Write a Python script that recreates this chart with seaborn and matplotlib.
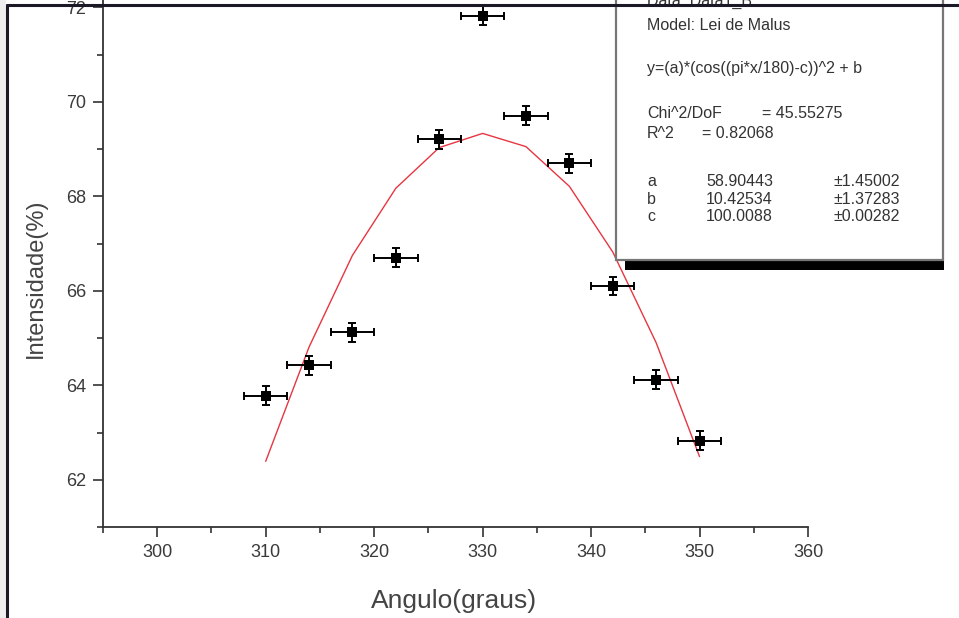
import matplotlib
matplotlib.use("Agg")
import matplotlib.pyplot as plt
import seaborn as sns
import pandas as pd
from matplotlib.patches import Rectangle
from matplotlib.lines import Line2D
from matplotlib.ticker import MultipleLocator

# ---- data ----
angles = [310, 314, 318, 322, 326, 330, 334, 338, 342, 346, 350]
intensity = [63.78, 64.42, 65.12, 66.70, 69.21, 71.82, 69.70, 68.70, 66.10, 64.12, 62.83]
angle_err = [2, 2, 2, 2, 2, 2, 2, 2, 2, 2, 2]
intensity_err = [0.2, 0.2, 0.2, 0.2, 0.2, 0.2, 0.2, 0.2, 0.2, 0.2, 0.2]

fit_angles = [310, 314, 318, 322, 326, 330, 334, 338, 342, 346, 350]
fit_values = [62.39, 64.81, 66.75, 68.17, 69.03, 69.33, 69.05, 68.21, 66.82, 64.90, 62.49]

x_ticks = [300, 310, 320, 330, 340, 350, 360]
y_ticks = [62, 64, 66, 68, 70, 72]

legend_lines = [
    "Data: Data1_B",
    "Model: Lei de Malus",
    "y=(a)*(cos((pi*x/180)-c))^2 + b",
    "Chi^2/DoF",
    "R^2",
    "a", "b", "c",
]
chi_value = "= 45.55275"
r2_value = "= 0.82068"
param_values = ["58.90443", "10.42534", "100.0088"]
param_errors = ["\u00b11.45002", "\u00b11.37283", "\u00b10.00282"]

points = pd.DataFrame({"angle": angles, "intensity": intensity})
fit = pd.DataFrame({"angle": fit_angles, "value": fit_values})

sns.set_theme(style="ticks")
plt.rcParams['font.family'] = ['Liberation Sans', 'DejaVu Sans']

W, H = 959, 618
fig = plt.figure(figsize=(W / 100, H / 100), dpi=100)
fig.patch.set_facecolor("white")


def fx(px):
    return px / W


def fy(py):
    return 1 - py / H


ax_l, ax_r, ax_b, ax_t = 103, 808, 527, 0
ax = fig.add_axes([fx(ax_l), fy(ax_b), fx(ax_r) - fx(ax_l), fy(ax_t) - fy(ax_b)])
ax.set_facecolor("white")

sns.lineplot(data=fit, x="angle", y="value", ax=ax, color="#e63642",
             linewidth=1.0, zorder=2)
ax.errorbar(angles, intensity, xerr=angle_err, yerr=intensity_err, fmt="none",
            ecolor="black", elinewidth=1.4, capsize=3.2, capthick=1.4, zorder=3)
sns.scatterplot(data=points, x="angle", y="intensity", ax=ax, marker="s",
                s=55, color="black", edgecolor="black", linewidth=0, zorder=4)

ax.set_xlim(295, 360)
ax.set_ylim(61, 61 + 527 / 47.25)
ax.set_xticks(x_ticks)
ax.set_yticks(y_ticks)
ax.xaxis.set_minor_locator(MultipleLocator(5))
ax.yaxis.set_minor_locator(MultipleLocator(1))
ax.tick_params(axis="both", which="major", direction="out", length=7, width=1.2,
               color="#333333", labelsize=13, labelcolor="#3a3a3a", pad=5)
ax.tick_params(axis="both", which="minor", direction="out", length=4, width=1.2,
               color="#333333")
for side in ["top", "right"]:
    ax.spines[side].set_visible(False)
for side in ["left", "bottom"]:
    ax.spines[side].set_color("#333333")
    ax.spines[side].set_linewidth(1.3)

ax.set_xlabel("Angulo(graus)", fontsize=19, color="#444444")
ax.set_ylabel("Intensidade(%)", fontsize=17, color="#444444")
ax.xaxis.set_label_coords((454 - ax_l) / (ax_r - ax_l), (ax_b - 601) / (ax_b - ax_t))
ax.xaxis.label.set_va("center")
ax.yaxis.set_label_coords((36 - ax_l) / (ax_r - ax_l), (ax_b - 278) / (ax_b - ax_t))
ax.yaxis.label.set_va("center")

# ---- legend / fit results box ----
fig.add_artist(Rectangle((fx(625), fy(270)), fx(944) - fx(625), fy(259) - fy(270),
                         transform=fig.transFigure, facecolor="black",
                         edgecolor="none", zorder=5))
fig.add_artist(Rectangle((fx(616), fy(260)), fx(943) - fx(616), fy(-20) - fy(260),
                         transform=fig.transFigure, facecolor="white",
                         edgecolor="#777777", linewidth=1.6, zorder=6))

tx = fx(647)
tstyle = dict(fontsize=11.5, color="#333333", va="center", ha="left", zorder=7,
              transform=fig.transFigure)
fig.text(tx, fy(1), legend_lines[0], **tstyle)
fig.text(tx, fy(25), legend_lines[1], **tstyle)
fig.text(tx, fy(69), legend_lines[2], **tstyle)
fig.text(tx, fy(114), legend_lines[3], **tstyle)
fig.text(fx(762), fy(114), chi_value, **tstyle)
fig.text(tx, fy(133), legend_lines[4], **tstyle)
fig.text(fx(702), fy(133), r2_value, **tstyle)
for i, yy in enumerate([181, 199, 216]):
    fig.text(tx, fy(yy), legend_lines[5 + i], **tstyle)
    fig.text(fx(706), fy(yy), param_values[i], **tstyle)
    fig.text(fx(833), fy(yy), param_errors[i], **tstyle)

# ---- outer frame of the screenshot ----
fig.add_artist(Rectangle((0, 0), fx(6), 1, transform=fig.transFigure,
                         facecolor="#eeeeee", edgecolor="none", zorder=8))
fig.add_artist(Line2D([fx(7), 1], [fy(5), fy(5)], transform=fig.transFigure,
                      color="#1a1a26", linewidth=2.2, zorder=9))
fig.add_artist(Line2D([fx(7), fx(7)], [0, fy(5)], transform=fig.transFigure,
                      color="#1a1a26", linewidth=2.2, zorder=9))

fig.savefig("out.png", dpi=100)
